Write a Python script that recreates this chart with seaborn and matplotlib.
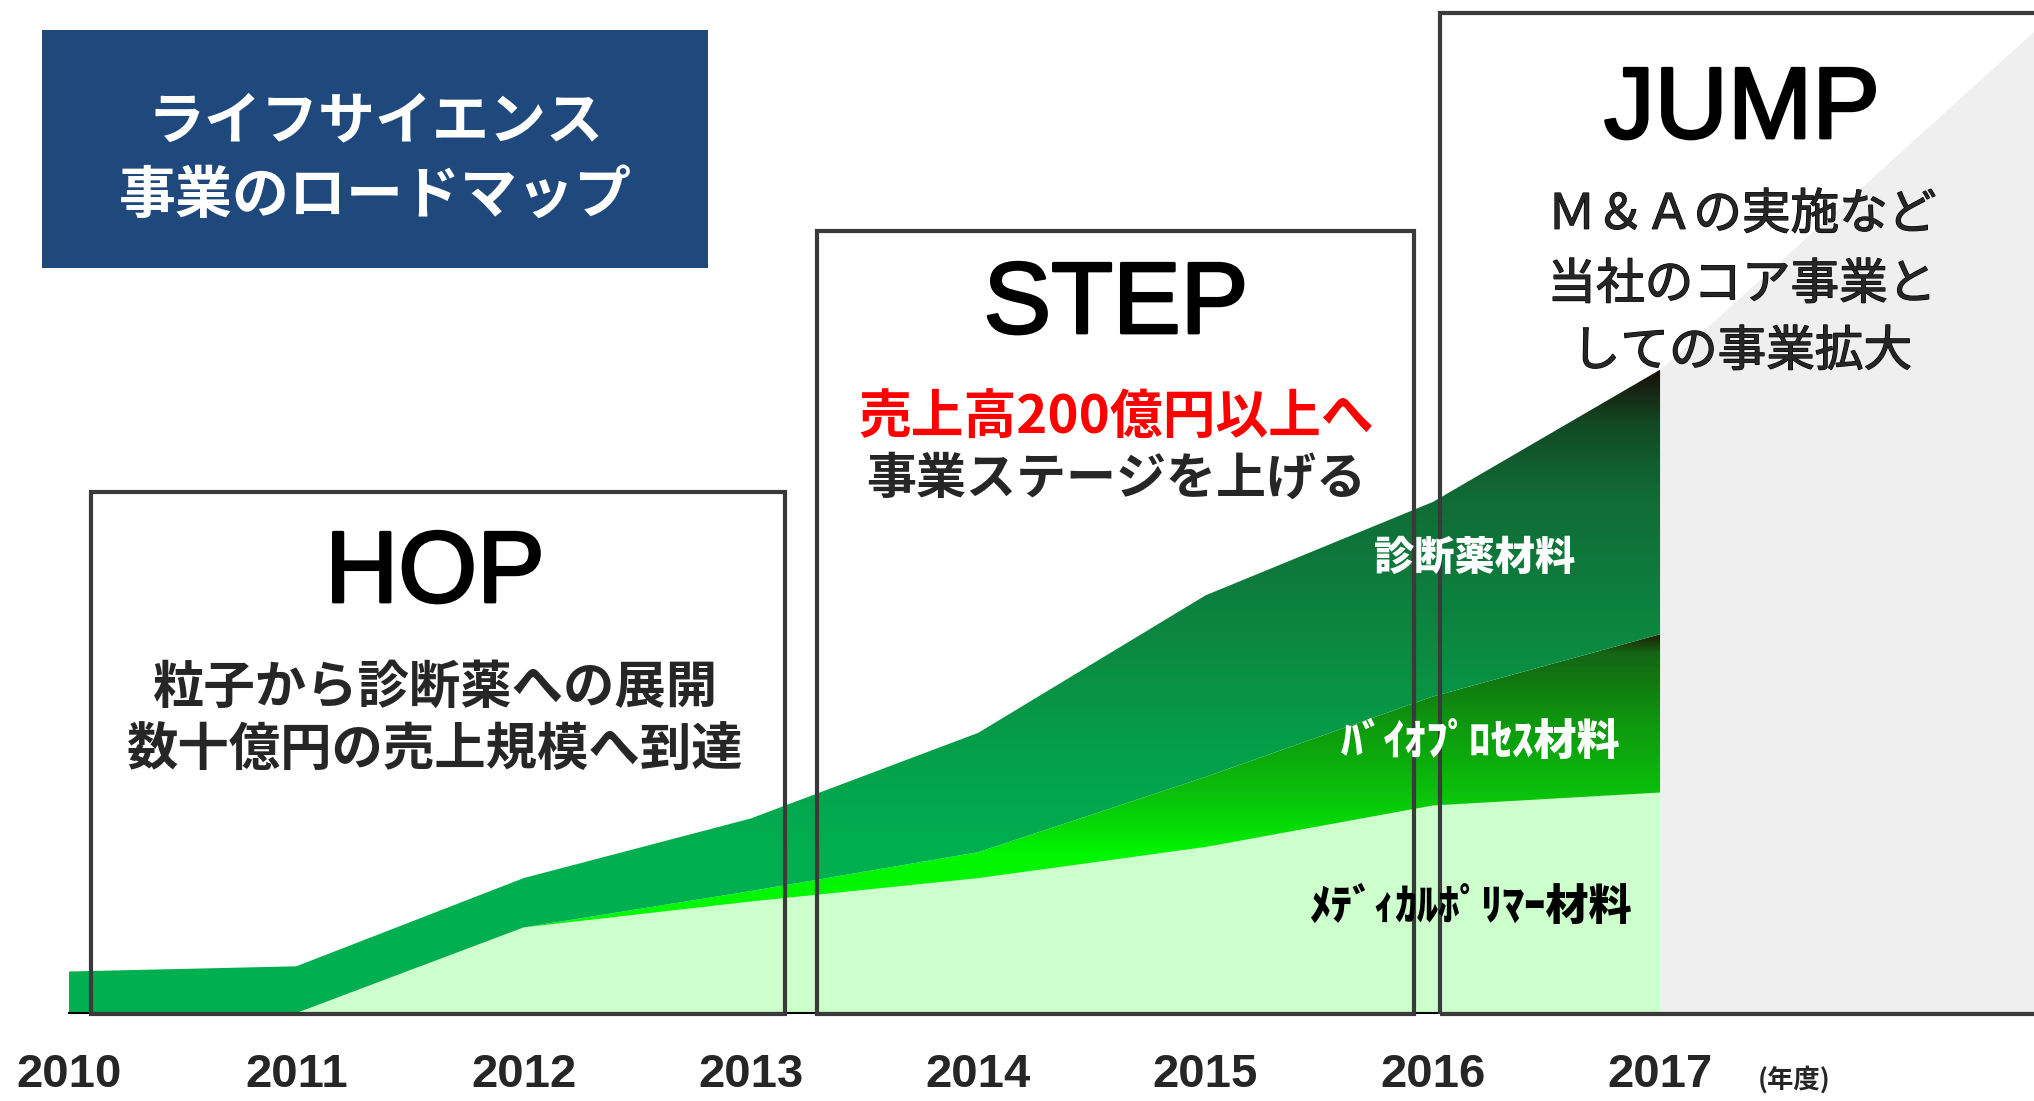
import numpy as np
import matplotlib
matplotlib.use("Agg")
import matplotlib.pyplot as plt
import matplotlib.patheffects as pe
from matplotlib.colors import LinearSegmentedColormap
from matplotlib.patches import Rectangle
import seaborn as sns

# データ (単位: 任意, 図から読み取り)
years = [2010, 2011, 2012, 2013, 2014, 2015, 2016, 2017]
year_labels = ['2010', '2011', '2012', '2013', '2014', '2015', '2016', '2017']
medical = [0, 0, 33, 43, 52, 64, 80, 85]      # メディカルポリマー材料
bio = [0, 0, 0, 4, 10, 27, 42, 61]            # バイオプロセス材料
diag = [16, 18, 19, 28, 46, 70, 75, 102]      # 診断薬材料
future_years = [2017, 2018.65]
future_top = [248, 379]

layer_names = ['診断薬材料', 'ﾊﾞｲｵﾌﾟﾛｾｽ材料', 'ﾒﾃﾞｨｶﾙﾎﾟﾘﾏｰ材料']

sns.set_theme(style="white")
JP = ['Noto Sans CJK JP', 'DejaVu Sans']
plt.rcParams['font.family'] = JP

W, H = 2034, 1101
fig = plt.figure(figsize=(W / 100, H / 100), dpi=100)
ax = fig.add_axes([0, 0, 1, 1])

def fx(px):
    return px / W

def fy(py):
    return 1 - py / H

x = np.array(years, dtype=float)
m = np.array(medical, dtype=float)
b = m + np.array(bio)
t = b + np.array(diag)

def gradient_fill(lo, hi, stops, vmax):
    poly = ax.fill_between(x, lo, hi, color='none', lw=0)
    cmap = LinearSegmentedColormap.from_list('g', [(v / vmax, c) for v, c in stops])
    grad = np.linspace(0, vmax, 512).reshape(-1, 1)
    im = ax.imshow(grad, cmap=cmap, aspect='auto', origin='lower',
                   extent=[x[0], x[-1], 0, vmax], interpolation='bilinear', zorder=2)
    im.set_clip_path(poly.get_paths()[0], transform=ax.transData)

# 将来 (グレー)
ax.fill_between(future_years, 0, future_top, color='#efefef', lw=0, zorder=1)

# メディカルポリマー
ax.fill_between(x, 0, m, color='#ccffcc', lw=0, zorder=2)
sns.lineplot(x=x, y=m, color='#ccffcc', lw=1, ax=ax, zorder=2)

# バイオプロセス
bio_stops = [(0, '#00ff00'), (62, '#00f500'), (70, '#05e005'), (83, '#0ac40a'),
             (100, '#0ca80c'), (113, '#0e960e'), (130, '#117511'), (139, '#156515'),
             (146, '#1e1e05')]
gradient_fill(m, b, bio_stops, 146)

# 診断薬
diag_stops = [(0, '#00b050'), (60, '#00b050'), (100, '#04a04a'), (137, '#0b8c42'),
              (170, '#0e7a3c'), (200, '#106b34'), (227, '#134a25'), (248, '#1a0f08')]
gradient_fill(b, t, diag_stops, 248)

ax.set_xlim(2010 - 69 / 227.3, 2010 + (W - 69) / 227.3)
ax.set_ylim(-88 / 2.594, (H - 88) / 2.594)

for s in ['top', 'left', 'right']:
    ax.spines[s].set_visible(False)
ax.spines['bottom'].set_position(('data', 0))
ax.spines['bottom'].set_bounds(2010, 2018.7)
ax.spines['bottom'].set_color('black')
ax.spines['bottom'].set_linewidth(1.5)
ax.spines['bottom'].set_zorder(4)
ax.set_yticks([])
ax.set_xticks(years)
ax.set_xticklabels(year_labels, fontsize=34, fontweight='bold',
                   family=['Liberation Sans', 'DejaVu Sans'])
ax.tick_params(axis='x', direction='in', length=8.5, width=1, color='#555555', pad=29)
ax.set_facecolor('white')

def label(px, py, s, **kw):
    ax.text(fx(px), fy(py), s, transform=ax.transAxes, ha='center', va='center',
            zorder=6, **kw)

# タイトル
ax.add_patch(Rectangle((fx(42), fy(268)), fx(708) - fx(42), fy(30) - fy(268),
                       transform=ax.transAxes, color='#1f497d', lw=0, zorder=5))
label(375, 121, 'ライフサイエンス', color='white', fontsize=41, fontweight='bold')
label(375, 196, '事業のロードマップ', color='white', fontsize=41, fontweight='bold')

# HOP / STEP / JUMP 枠
boxes = [(91, 492, 785, 1014), (817, 231, 1414, 1014), (1440, 13, 2060, 1014)]
for x0, y0, x1, y1 in boxes:
    ax.add_patch(Rectangle((fx(x0), fy(y1)), fx(x1) - fx(x0), fy(y0) - fy(y1),
                           transform=ax.transAxes, fill=False, ec='#3a3a3a', lw=3,
                           zorder=5, clip_on=False))

EN = ['Liberation Sans', 'DejaVu Sans']
thick = [pe.withStroke(linewidth=2, foreground='black')]
label(435, 576, 'HOP', fontsize=73, family=EN, color='black', path_effects=thick)
label(1116, 307, 'STEP', fontsize=73, family=EN, color='black', path_effects=thick)
label(1742, 112, 'JUMP', fontsize=73, family=EN, color='black', path_effects=thick)

label(435, 687, '粒子から診断薬への展開', fontsize=37, fontweight='bold')
label(435, 750, '数十億円の売上規模へ到達', fontsize=37, fontweight='bold')

label(1116, 417, '売上高200億円以上へ', fontsize=38, fontweight='bold', color='#ff0000')
label(1116, 479, '事業ステージを上げる', fontsize=36, fontweight='bold')

medium = [pe.withStroke(linewidth=0.9, foreground='black')]
for yy, s in [(215, 'Ｍ＆Ａの実施など'), (285, '当社のコア事業と'), (352, 'しての事業拡大')]:
    label(1742, yy, s, fontsize=35, path_effects=medium)

# 系列ラベル
label(1475, 558, layer_names[0], fontsize=29, fontweight='black', color='white')
label(1481, 742, layer_names[1], fontsize=31, fontweight='black', color='white')
label(1470, 907, layer_names[2], fontsize=31, fontweight='black', color='black')

label(1794, 1080, '(年度)', fontsize=19, fontweight='bold')

fig.savefig('out.png', dpi=100)
